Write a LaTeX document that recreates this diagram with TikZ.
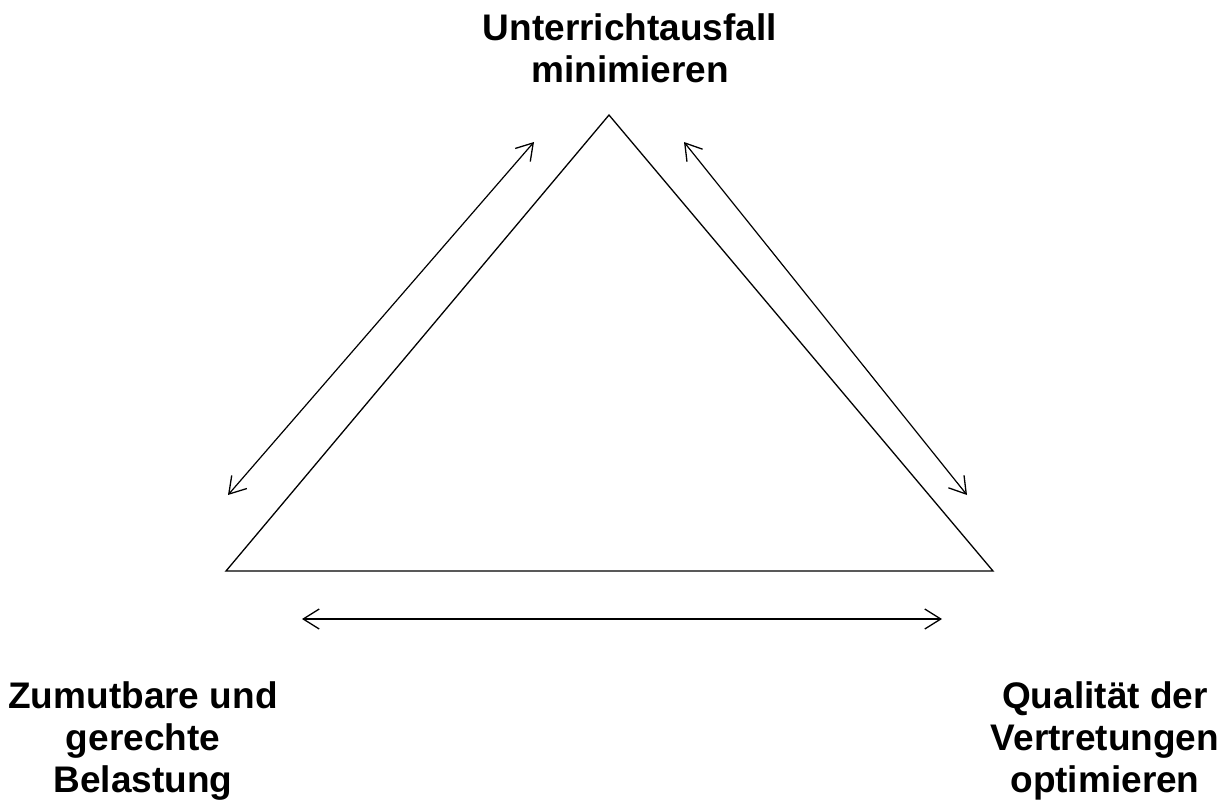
\documentclass[tikz,border=0pt]{standalone}
\usepackage{fontspec}
\setmainfont{Liberation Sans}
\usetikzlibrary{arrows.meta}
\tikzset{
  lbl/.style={align=center, inner sep=0pt, font=\fontsize{37}{42}\selectfont\bfseries},
  edge/.style={line width=1.3pt, line join=miter},
  dbl/.style={line width=1.2pt, {Straight Barb[length=16pt,width=20pt,line width=1.3pt]}-{Straight Barb[length=16pt,width=20pt,line width=1.3pt]}}
}
\begin{document}
\begin{tikzpicture}[x=1pt,y=-1pt]
\useasboundingbox (0,0) rectangle (1229,804);
\coordinate (A) at (609,115);
\coordinate (B) at (226,571);
\coordinate (C) at (993,571);
\draw[edge] (A) -- (B) -- (C) -- cycle;
\coordinate (l1) at (228,495);
\coordinate (l2) at (534,142);
\coordinate (r1) at (684,142);
\coordinate (r2) at (967,495);
\coordinate (b1) at (302,619);
\coordinate (b2) at (942,619);
\draw[dbl] (l1) -- (l2);
\draw[dbl] (r1) -- (r2);
\draw[dbl] (b1) -- (b2);
\node[lbl, anchor=base] (top) at (630,82) {Unterrichtausfall\\minimieren};
\node[lbl, anchor=base] (left) at (143,792) {Zumutbare und\\gerechte\\Belastung};
\node[lbl, anchor=base] (right) at (1105,792) {Qualität der\\Vertretungen\\optimieren};
\end{tikzpicture}
\end{document}
